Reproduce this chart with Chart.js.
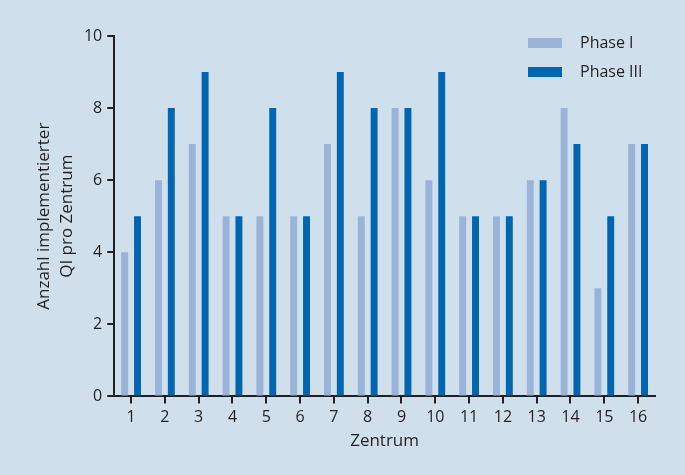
<!DOCTYPE html>
<html>
<head>
<meta charset="utf-8">
<script src="https://cdn.jsdelivr.net/npm/chart.js@4"></script>
<style>
  html, body { margin: 0; padding: 0; background: #cfe0ec; }
  #wrap { width: 685px; height: 475px; }
</style>
</head>
<body>
<div id="wrap"><canvas id="myChart" width="685" height="475"></canvas></div>
<script>
const zentren = ['1', '2', '3', '4', '5', '6', '7', '8', '9', '10', '11', '12', '13', '14', '15', '16'];
const phase1 = [4, 6, 7, 5, 5, 5, 7, 5, 8, 6, 5, 5, 6, 8, 3, 7];
const phase3 = [5, 8, 9, 5, 8, 5, 9, 8, 8, 9, 5, 5, 6, 7, 5, 7];
const yTicks = [0, 2, 4, 6, 8, 10];

const dunkel = '#231f20';
const font = "'Open Sans', 'Noto Sans', sans-serif";

// legend top right, drawn by hand (two rows)
const legendeRechts = {
  id: 'legendeRechts',
  afterDraw(chart) {
    const ctx = chart.ctx;
    ctx.save();
    chart.data.datasets.forEach((ds, i) => {
      const y = 43 + i * 29;
      ctx.fillStyle = ds.backgroundColor;
      ctx.fillRect(528, y - 5, 34, 10);
      ctx.fillStyle = dunkel;
      ctx.font = '16px ' + font;
      ctx.textBaseline = 'middle';
      ctx.fillText(ds.label, 580, y);
    });
    ctx.restore();
  }
};

const ctx = document.getElementById('myChart');

new Chart(ctx, {
  type: 'bar',
  data: {
    labels: zentren,
    datasets: [
      { label: 'Phase I', data: phase1, backgroundColor: '#9ab3d9' },
      { label: 'Phase III', data: phase3, backgroundColor: '#0066b0' }
    ]
  },
  options: {
    responsive: false,
    animation: false,
    layout: { padding: { left: 29, right: 30, top: 36, bottom: 20 } },
    datasets: {
      bar: { categoryPercentage: 0.76, barPercentage: 0.54 }
    },
    plugins: {
      legend: { display: false },
      tooltip: { enabled: false }
    },
    scales: {
      x: {
        offset: true,
        grid: { offset: false, drawOnChartArea: false, drawTicks: true, tickLength: 7, color: dunkel, lineWidth: 2 },
        border: { color: dunkel, width: 2 },
        ticks: { color: dunkel, font: { family: font, size: 16 }, padding: 4, maxRotation: 0 },
        title: { display: true, text: 'Zentrum', color: dunkel, font: { family: font, size: 17 }, padding: { top: 0 } }
      },
      y: {
        min: 0,
        max: 10,
        afterBuildTicks: axis => { axis.ticks = yTicks.map(v => ({ value: v })); },
        grid: { drawOnChartArea: false, drawTicks: true, tickLength: 7, color: dunkel, lineWidth: 2 },
        border: { color: dunkel, width: 2 },
        ticks: { color: dunkel, font: { family: font, size: 16 }, padding: 5 },
        title: {
          display: true,
          text: ['Anzahl implementierter', 'QI pro Zentrum'],
          color: dunkel,
          font: { family: font, size: 17, lineHeight: 1.35 },
          padding: { bottom: 0 }
        }
      }
    }
  },
  plugins: [legendeRechts]
});
</script>
</body>
</html>
